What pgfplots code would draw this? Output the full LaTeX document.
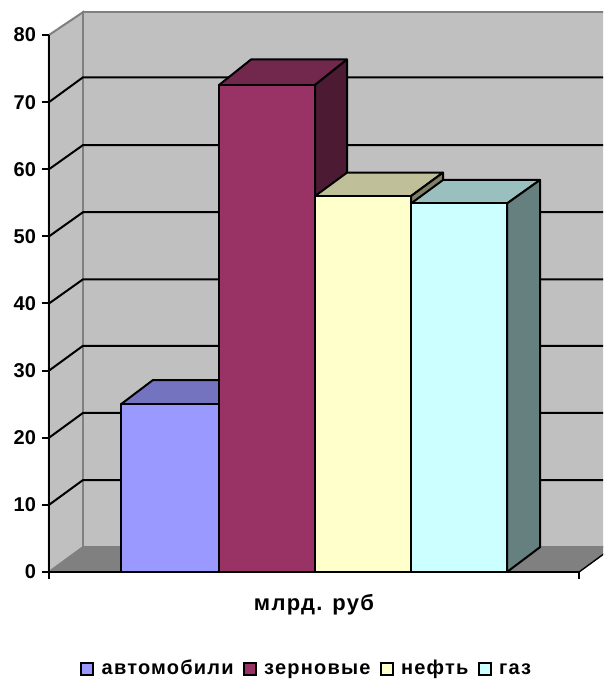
\documentclass[border=0pt]{standalone}
\usepackage{fontspec}
\setmainfont{Liberation Sans}
\usepackage{pgfplots}
\pgfplotsset{compat=1.18}
% 1 px of the reference = 0.75pt; x in px, y in chart values (6.7125 px per unit)
\definecolor{wall}{HTML}{C0C0C0}
\definecolor{floorc}{HTML}{808080}
\definecolor{barA}{HTML}{9999FF}
\definecolor{barAtop}{HTML}{7373BF}
\definecolor{barB}{HTML}{993366}
\definecolor{barBtop}{HTML}{72274D}
\definecolor{barBside}{HTML}{4D1A33}
\definecolor{barC}{HTML}{FFFFCC}
\definecolor{barCtop}{HTML}{BFBF99}
\definecolor{barCside}{HTML}{808066}
\definecolor{barD}{HTML}{CCFFFF}
\definecolor{barDtop}{HTML}{99BFBF}
\definecolor{barDside}{HTML}{668080}
\begin{document}
\begin{tikzpicture}
\path[clip,use as bounding box] (-36.75pt,-84pt) rectangle (415.5pt,429pt);
\begin{axis}[
    scale only axis,
    width=397.5pt,
    height=402.75pt,
    xmin=49, xmax=579,
    ymin=0, ymax=80,
    clip=false,
    axis on top,
    axis lines=left,
    axis line style={-,line width=1.5pt},
    tick style={black,line width=1.5pt},
    tick align=outside,
    major tick length=5.25pt,
    ytick={0,10,...,80},
    xtick={49,579},
    xticklabels={},
    /pgf/number format/assume math mode=true,
    tick label style={font=\fontsize{15}{18}\selectfont\bfseries},
    yticklabel style={xshift=-1pt},
    xlabel={млрд. руб},
    xlabel style={font=\fontsize{16.5}{18}\selectfont\bfseries\addfontfeatures{LetterSpace=6},yshift=-1pt},
    legend columns=4,
    legend style={at={(axis description cs:0.487,-0.181)},anchor=center,draw=none,fill=none,
        font=\fontsize{15}{18}\selectfont\bfseries\addfontfeatures{LetterSpace=6},
        nodes={text height=11pt,text depth=3pt,inner xsep=2pt},
        /tikz/every odd column/.append style={column sep=3.5pt},
        /tikz/every even column/.append style={column sep=5pt}},
    legend image code/.code={\draw[#1,line width=1.5pt] (0pt,-4.5pt) rectangle (9pt,4.5pt);},
    every axis plot/.append style={no markers,forget plot},
]
% walls and floor
\addplot[fill=wall,draw=floorc,line width=1.5pt] coordinates {(49,0) (49,80) (83,83.4) (83,3.7)} --cycle;
\addplot[fill=wall,draw=floorc,line width=1.5pt] coordinates {(83,3.7) (83,83.4) (640,83.4) (640,3.7)} --cycle;
\addplot[fill=floorc,draw=floorc,line width=1pt] coordinates {(49,0) (83,3.7) (613,3.7) (579,0)} --cycle;
\addplot[black,line width=1pt] coordinates {(579,0) (613,3.7)};
% gridlines
\addplot[black,line width=1.5pt,unbounded coords=jump] coordinates {
    (49,10) (83,13.7) (640,13.7) (640,nan)
    (49,20) (83,23.7) (640,23.7) (640,nan)
    (49,30) (83,33.7) (640,33.7) (640,nan)
    (49,40) (83,43.6) (640,43.6) (640,nan)
    (49,50) (83,53.6) (640,53.6) (640,nan)
    (49,60) (83,63.6) (640,63.6) (640,nan)
    (49,70) (83,73.7) (640,73.7)
};
% автомобили
\addplot[fill=barAtop,draw=black,line width=1.5pt,line join=round] coordinates {(121,25) (153,28.6) (251,28.6) (219,25)} --cycle;
\addplot[fill=barA,draw=black,line width=1.5pt,line join=round] coordinates {(121,0) (121,25) (219,25) (219,0)} --cycle;
% зерновые
\addplot[fill=barBtop,draw=black,line width=1.5pt,line join=round] coordinates {(219,72.55) (251,76.35) (347,76.35) (315,72.55)} --cycle;
\addplot[fill=barBside,draw=black,line width=1.5pt,line join=round] coordinates {(315,0) (315,72.55) (347,76.35) (347,3.7)} --cycle;
\addplot[fill=barB,draw=black,line width=1.5pt,line join=round] coordinates {(219,0) (219,72.55) (315,72.55) (315,0)} --cycle;
% нефть
\addplot[fill=barCtop,draw=black,line width=1.5pt,line join=round] coordinates {(315,56) (347,59.5) (443,59.5) (411,56)} --cycle;
\addplot[fill=barCside,draw=black,line width=1.5pt,line join=round] coordinates {(411,0) (411,56) (443,59.5) (443,3.7)} --cycle;
\addplot[fill=barC,draw=black,line width=1.5pt,line join=round] coordinates {(315,0) (315,56) (411,56) (411,0)} --cycle;
% газ
\addplot[fill=barDtop,draw=black,line width=1.5pt,line join=round] coordinates {(411,54.9) (443,58.4) (540,58.4) (507,54.9)} --cycle;
\addplot[fill=barDside,draw=black,line width=1.5pt,line join=round] coordinates {(507,0) (507,54.9) (540,58.4) (540,3.7)} --cycle;
\addplot[fill=barD,draw=black,line width=1.5pt,line join=round] coordinates {(411,0) (411,54.9) (507,54.9) (507,0)} --cycle;
% legend
\addlegendimage{fill=barA,draw=black}
\addlegendentry{автомобили}
\addlegendimage{fill=barB,draw=black}
\addlegendentry{зерновые}
\addlegendimage{fill=barC,draw=black}
\addlegendentry{нефть}
\addlegendimage{fill=barD,draw=black}
\addlegendentry{газ}
\end{axis}
\end{tikzpicture}
\end{document}
